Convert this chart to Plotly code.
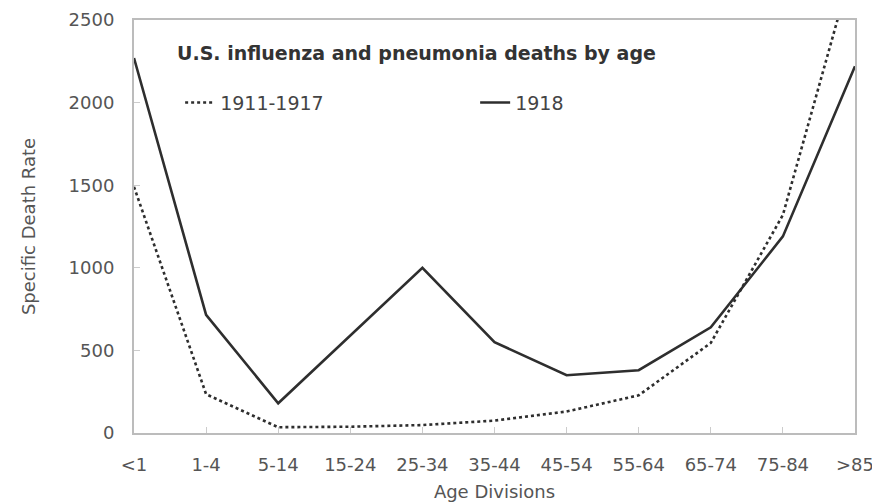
import plotly.graph_objects as go

age_groups = ["<1", "1-4", "5-14", "15-24", "25-34", "35-44", "45-54", "55-64", "65-74", "75-84", ">85"]
rate_1911_1917 = [1490, 235, 35, 38, 48, 75, 130, 228, 545, 1320, 2880]
rate_1918 = [2270, 715, 180, 590, 1000, 550, 350, 380, 640, 1190, 2220]
y_ticks = [0, 500, 1000, 1500, 2000, 2500]

FONT = "DejaVu Sans, Verdana, sans-serif"
LINE_COLOR = "#2e2e2e"

fig = go.Figure()
fig.add_trace(go.Scatter(
    x=list(range(len(age_groups))), y=rate_1911_1917, name="1911-1917", mode="lines",
    line=dict(color=LINE_COLOR, width=2.6, dash="dot"),
))
fig.add_trace(go.Scatter(
    x=list(range(len(age_groups))), y=rate_1918, name="1918", mode="lines",
    line=dict(color=LINE_COLOR, width=2.6),
))

fig.update_layout(
    width=880, height=504,
    margin=dict(l=126, r=33, t=12, b=79, autoexpand=False),
    paper_bgcolor="white", plot_bgcolor="white",
    font=dict(family=FONT, color="#555555", size=18),
    showlegend=True,
    legend=dict(
        orientation="h", x=0.064, y=0.80, xanchor="left", yanchor="middle",
        bgcolor="rgba(0,0,0,0)", font=dict(size=19, color="#444444"),
        entrywidth=250, itemwidth=30,
    ),
    annotations=[dict(
        text="<b>U.S. influenza and pneumonia deaths by age</b>",
        xref="paper", yref="paper", x=0.057, y=0.92, xanchor="left", yanchor="middle",
        showarrow=False, font=dict(size=19, color="#333333", family=FONT),
    )],
)

fig.update_xaxes(
    range=[0, len(age_groups) - 1], automargin=False,
    tickmode="array", tickvals=list(range(len(age_groups))), ticktext=age_groups,
    showgrid=False, zeroline=False,
    showline=True, linecolor="#bcbcbc", linewidth=2, mirror=True,
    ticks="inside", ticklen=6, tickcolor="#cccccc",
    ticklabelstandoff=14, ticklabeloverflow="allow", tickfont=dict(size=18, color="#555555"),
    title=dict(text="Age Divisions", font=dict(size=18, color="#555555"), standoff=12),
)
fig.update_yaxes(
    range=[0, 2500], tickmode="array", tickvals=y_ticks, automargin=False,
    showgrid=False, zeroline=False,
    showline=True, linecolor="#bcbcbc", linewidth=2, mirror=True,
    ticks="inside", ticklen=6, tickcolor="#cccccc",
    ticklabelstandoff=14, ticklabeloverflow="allow", tickfont=dict(size=18, color="#555555"),
    title=dict(text="Specific Death Rate", font=dict(size=18, color="#555555"), standoff=28),
)

fig.write_html("out.html")
